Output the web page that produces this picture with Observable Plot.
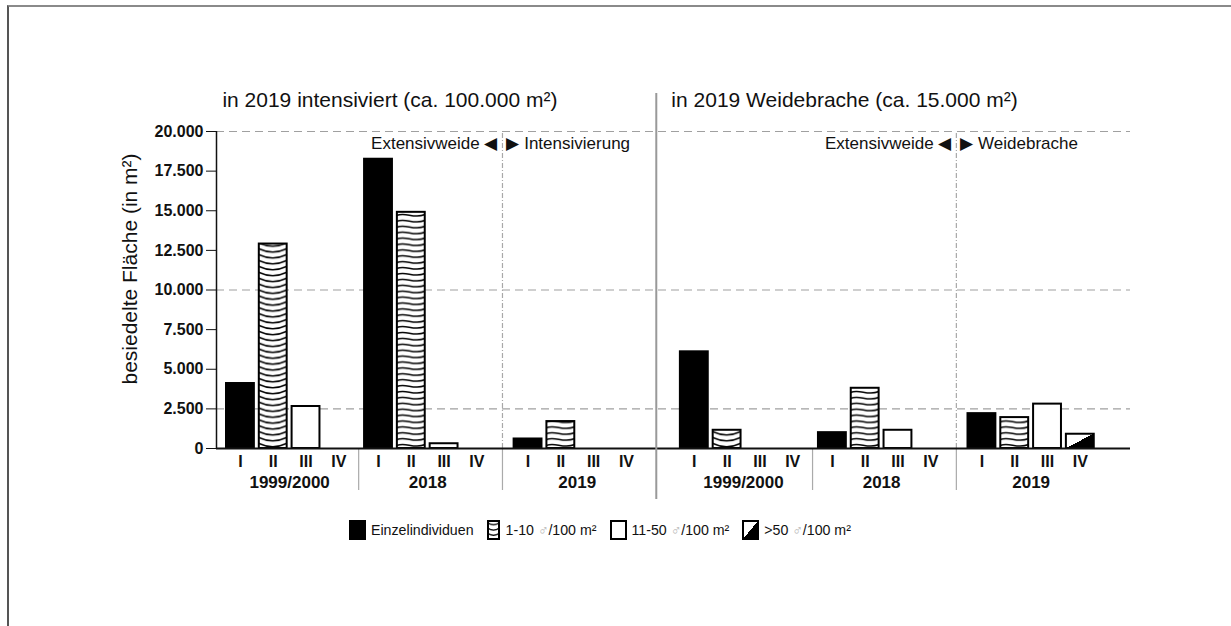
<!DOCTYPE html>
<html><head><meta charset="utf-8">
<script src="https://cdn.jsdelivr.net/npm/d3@7"></script>
<script src="https://cdn.jsdelivr.net/npm/@observablehq/plot@0.6"></script>
<style>
body{margin:0;background:#fff;font-family:"Liberation Sans",Arial,sans-serif;}
#page{position:relative;width:1231px;height:626px;overflow:hidden;background:#fff;}
#frame{position:absolute;left:7px;top:5px;width:1240px;height:640px;border-top:2px solid #8a8a8a;border-left:2px solid #555;}
#chart{position:absolute;left:0;top:0;}
#legend{position:absolute;left:349px;top:520px;display:flex;align-items:center;font-size:14.2px;color:#111;white-space:nowrap;}
.item{display:flex;align-items:center;margin-right:13px;}
.sw{display:inline-block;width:17px;height:20px;box-sizing:border-box;border:2px solid #000;margin-right:5px;}
.mars{color:#b0b0b0;font-family:"DejaVu Sans",sans-serif;font-size:14px;font-weight:200;}
</style></head>
<body><div id="page"><div id="frame"></div><div id="chart"></div><div id="legend"></div></div>
<script>
// ---------- data ----------
const classes = ["I", "II", "III", "IV"];
const years = ["1999/2000", "2018", "2019"];
const panelTitles = ["in 2019 intensiviert (ca. 100.000 m²)", "in 2019 Weidebrache (ca. 15.000 m²)"];
const valuesIntensiviert = [[4100, 12900, 2650, 0], [18250, 14900, 300, 0], [600, 1700, 0, 0]];
const valuesWeidebrache = [[6100, 1150, 0, 0], [1000, 3800, 1150, 0], [2200, 1950, 2800, 900]];
const yTicks = [0, 2500, 5000, 7500, 10000, 12500, 15000, 17500, 20000];
const gridTicks = [2500, 10000, 20000];
const notesBefore = ["Extensivweide ◀", "Extensivweide ◀"];
const notesAfter = ["▶ Intensivierung", "▶ Weidebrache"];
const legendLabels = ["Einzelindividuen", "1-10 ♂/100 m²", "11-50 ♂/100 m²", ">50 ♂/100 m²"];
const yLabel = "besiedelte Fläche (in m²)";

// ---------- layout (slot units along x) ----------
const L = {panelStart: [0.73, 14.57], groupStart: [0, 4.21, 8.77], barW: 0.85, xMax: 27.87, divider: 13.41, titleX: [0.18, 13.87]};
const baseFills = ["black", null, "white", "url(#diag)"];

const panelValues = [valuesIntensiviert, valuesWeidebrache];
const rows = panelValues.flatMap((vals, pi) => years.flatMap((yr, gi) => classes.map((c, ci) => ({pi, gi, ci, year: yr, cls: c, value: vals[gi][ci]}))));
const pos = (pi, gi, ci) => L.panelStart[pi] + L.groupStart[gi] + ci;
const waveId = d => `wave-${d.pi}-${d.gi}`;
const fillOf = d => d.ci === 1 ? `url(#${waveId(d)})` : baseFills[d.ci];
const groups = [0, 1].flatMap(pi => years.map((yr, gi) => ({pi, gi, year: yr, x: pos(pi, gi, 1.5)})));
const seps = [0, 1].flatMap(pi => [0, 1].map(gi => ({pi, gi, x: (pos(pi, gi, 3) + pos(pi, gi + 1, 0)) / 2})));
const phaseSeps = seps.filter(d => d.gi === 1);
const notes = phaseSeps.map((d, i) => ({x: d.x, before: notesBefore[i], after: notesAfter[i]}));

const de = d3.formatLocale({decimal: ",", thousands: ".", grouping: [3], currency: ["", "€"]});
const fmt = de.format(",d");

const defs = () => {
  const g = d3.create("svg:g").attr("class", "pattern-defs");
  const d = g.append("defs");
  const lg = d.append("linearGradient").attr("id", "diag").attr("x1", 0).attr("y1", 0).attr("x2", 1).attr("y2", 1);
  [[0, "white"], [0.5, "white"], [0.5, "black"], [1, "black"]].forEach(([o, c]) => lg.append("stop").attr("offset", o).attr("stop-color", c));
  return g.node();
};

const font = 'Liberation Sans, Arial, sans-serif';
const chart = Plot.plot({
  width: 1231, height: 505,
  marginLeft: 216, marginRight: 101, marginTop: 131, marginBottom: 57,
  style: {fontFamily: font, color: "#111", background: "transparent", overflow: "visible"},
  x: {domain: [0, L.xMax], axis: null},
  y: {domain: [0, 20000], axis: null},
  color: {type: "identity"},
  marks: [
    defs,
    Plot.ruleY(gridTicks, {stroke: "#a0a0a0", strokeWidth: 1.2, strokeDasharray: "8,5"}),
    Plot.ruleX(phaseSeps, {x: "x", y1: 0, y2: 20000, stroke: "#a8a8a8", strokeWidth: 1.2, strokeDasharray: "5,2,1,2"}),
    Plot.ruleX(seps, {x: "x", y1: 0, y2: 0, insetBottom: -42, stroke: "#aaa", strokeWidth: 1.2}),
    Plot.rect(rows.filter(d => d.value > 0), {
      x1: d => pos(d.pi, d.gi, d.ci) - L.barW / 2, x2: d => pos(d.pi, d.gi, d.ci) + L.barW / 2,
      y1: 0, y2: "value", fill: fillOf, stroke: "black", strokeWidth: 2
    }),
    Plot.ruleX([0], {stroke: "#111", strokeWidth: 1.5}),
    Plot.ruleY([0], {stroke: "#111", strokeWidth: 2}),
    Plot.ruleX([L.divider], {y1: 20000, y2: 0, insetTop: -38, insetBottom: -51, stroke: "#999", strokeWidth: 2}),
    Plot.axisY({ticks: yTicks, tickFormat: fmt, tickSize: 10, tickPadding: 3, fontSize: 16, fontWeight: "bold", label: null, stroke: "#111"}),
    Plot.text(rows, {x: d => pos(d.pi, d.gi, d.ci), y: 0, text: "cls", dy: 13, fontSize: 16, fontWeight: "bold"}),
    Plot.text(groups, {x: "x", y: 0, text: "year", dy: 34, fontSize: 17, fontWeight: "bold"}),
    Plot.text(panelTitles, {x: (d, i) => L.titleX[i], y: 20000, text: d => d, dy: -31, textAnchor: "start", fontSize: 21}),
    Plot.text(notes, {x: "x", y: 20000, text: "before", dy: 12, dx: -5, textAnchor: "end", fontSize: 17}),
    Plot.text(notes, {x: "x", y: 20000, text: "after", dy: 12, dx: 4, textAnchor: "start", fontSize: 17}),
    Plot.text([yLabel], {frameAnchor: "left", text: d => d, rotate: -90, textAnchor: "middle", dx: -86, dy: -21, fontSize: 21})
  ]
});
document.getElementById("chart").appendChild(chart);

// wave patterns aligned to each hatched bar, positioned through the plot's x scale
const sx = chart.scale("x");
const defsSel = d3.select(chart).select(".pattern-defs defs");
rows.filter(d => d.ci === 1 && d.value > 0).forEach(d => {
  const x0 = sx.apply(pos(d.pi, d.gi, d.ci) - L.barW / 2);
  const x1 = sx.apply(pos(d.pi, d.gi, d.ci) + L.barW / 2);
  const w = x1 - x0, h = 5.9;
  const p = defsSel.append("pattern").attr("id", waveId(d)).attr("patternUnits", "userSpaceOnUse")
    .attr("x", x0).attr("y", 448).attr("width", w).attr("height", h);
  p.append("rect").attr("width", w).attr("height", h).attr("fill", "white");
  const path = d.gi === 0
    ? `M-1,0.9 Q${w / 2},8.4 ${w + 1},0.9`
    : `M-1,3.8 C${w * 0.3},-1.4 ${w * 0.6},8 ${w + 1},2.2`;
  p.append("path").attr("d", path).attr("fill", "none").attr("stroke", "black").attr("stroke-width", 1.5);
});

// ---------- legend ----------
const legend = document.getElementById("legend");
const swatchHTML = [
  '<span class="sw" style="background:#000"></span>',
  '<svg width="13" height="20" style="margin-right:6px"><defs><pattern id="wave2" patternUnits="userSpaceOnUse" width="13" height="5.3" y="1"><rect width="13" height="5.3" fill="white"/><path d="M-1,0.8 Q6.5,6.5 14,0.8" fill="none" stroke="black" stroke-width="1.3"/></pattern></defs><rect x="1" y="1" width="11" height="18" fill="url(#wave2)" stroke="black" stroke-width="2"/></svg>',
  '<span class="sw" style="background:#fff"></span>',
  '<span class="sw" style="background:linear-gradient(to bottom right,#fff 50%,#000 50%)"></span>'
];
legendLabels.forEach((lab, i) => {
  const item = document.createElement("div");
  item.className = "item";
  item.innerHTML = swatchHTML[i] + '<span>' + lab.replace("♂", '<span class="mars">♂</span>') + '</span>';
  legend.appendChild(item);
});
</script>
</body></html>
